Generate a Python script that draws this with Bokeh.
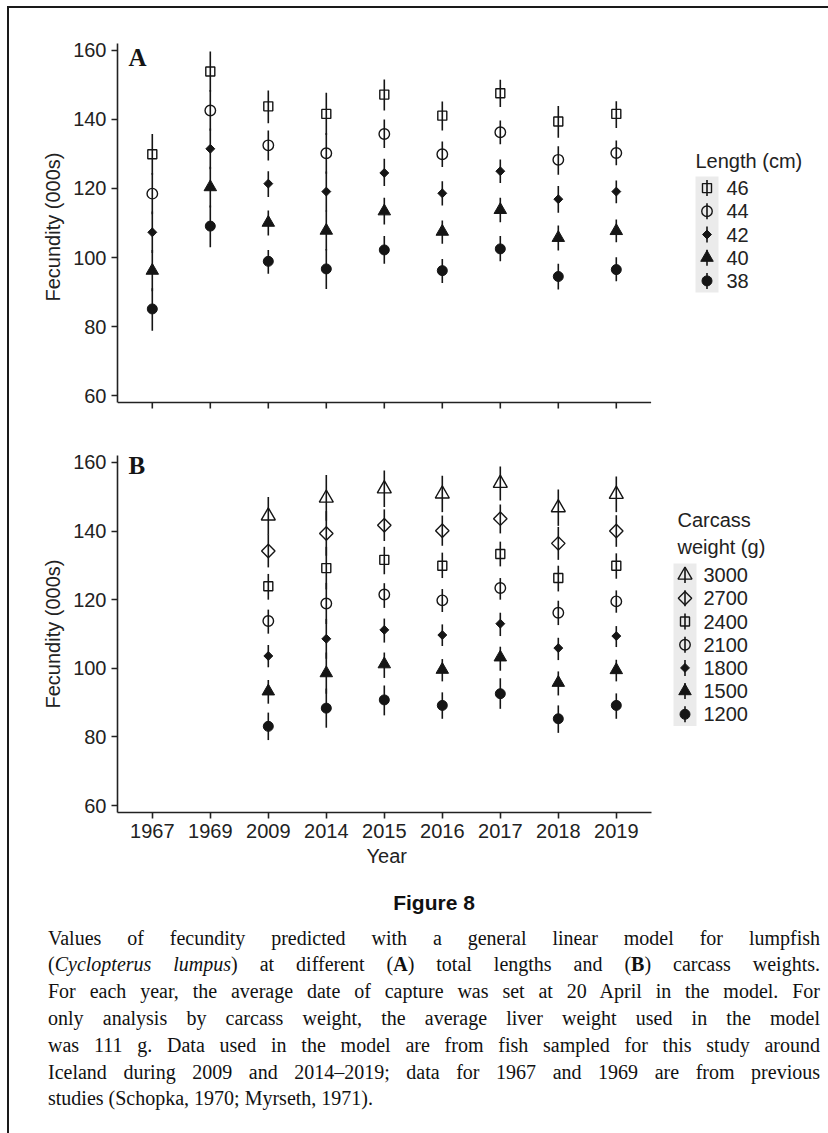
import math

from bokeh.plotting import figure
from bokeh.models import FixedTicker, Div, Title
from bokeh.layouts import column
from bokeh.core.properties import value
from bokeh.embed import file_html
from bokeh.resources import INLINE

# ---------------------------------------------------------------- data
years = ["1967", "1969", "2009", "2014", "2015", "2016", "2017", "2018", "2019"]
weight_years = ["2009", "2014", "2015", "2016", "2017", "2018", "2019"]
y_ticks = [60, 80, 100, 120, 140, 160]

# Panel A: predicted fecundity (000s) by total length, with confidence limits
length_labels = ["46", "44", "42", "40", "38"]
len46 = [129.9, 153.9, 143.8, 141.6, 147.2, 141.1, 147.6, 139.4, 141.6]
len46_lo = [124.0, 148.0, 138.9, 135.5, 142.6, 136.8, 143.6, 134.7, 137.5]
len46_hi = [135.8, 159.7, 148.4, 147.7, 151.6, 145.2, 151.5, 143.9, 145.3]
len44 = [118.5, 142.6, 132.5, 130.2, 135.8, 129.9, 136.3, 128.3, 130.3]
len44_lo = [112.5, 136.7, 128.1, 124.3, 131.7, 126.2, 132.8, 124.0, 126.7]
len44_hi = [124.5, 148.5, 136.8, 136.1, 140.0, 133.6, 139.7, 132.2, 133.9]
len42 = [107.3, 131.5, 121.4, 119.1, 124.5, 118.6, 125.0, 116.9, 119.1]
len42_lo = [101.3, 125.6, 117.5, 113.3, 120.7, 115.1, 121.6, 113.0, 115.7]
len42_hi = [113.3, 137.4, 125.0, 124.9, 128.6, 122.1, 128.4, 120.7, 122.3]
len40 = [96.2, 120.4, 110.1, 107.8, 113.4, 107.5, 113.8, 105.7, 107.7]
len40_lo = [90.2, 114.5, 106.4, 102.0, 109.6, 104.0, 110.2, 102.0, 104.4]
len40_hi = [102.2, 126.3, 113.6, 113.6, 117.3, 110.7, 117.3, 109.3, 111.0]
len38 = [85.1, 109.1, 98.9, 96.7, 102.2, 96.2, 102.5, 94.5, 96.5]
len38_lo = [78.8, 103.0, 95.3, 90.9, 98.2, 92.6, 98.9, 90.7, 93.1]
len38_hi = [91.1, 115.1, 102.2, 102.5, 106.2, 99.6, 106.2, 98.2, 100.1]

# Panel B: predicted fecundity (000s) by carcass weight, with confidence limits
weight_labels = ["3000", "2700", "2400", "2100", "1800", "1500", "1200"]
w3000 = [144.4, 149.6, 152.3, 150.8, 153.9, 146.8, 150.7]
w3000_lo = [138.9, 143.0, 147.0, 145.5, 148.9, 141.5, 145.5]
w3000_hi = [149.9, 156.3, 157.6, 156.1, 158.8, 152.1, 155.9]
w2700 = [134.2, 139.3, 141.7, 140.1, 143.6, 136.4, 140.0]
w2700_lo = [129.4, 132.8, 137.1, 135.7, 139.3, 131.6, 135.4]
w2700_hi = [139.0, 145.8, 146.3, 144.5, 147.7, 141.2, 144.6]
w2400 = [123.9, 129.2, 131.6, 129.9, 133.3, 126.3, 129.9]
w2400_lo = [120.0, 123.0, 127.4, 126.3, 129.7, 122.4, 126.1]
w2400_hi = [127.5, 135.4, 135.4, 133.7, 136.9, 129.9, 133.5]
w2100 = [113.8, 118.9, 121.5, 119.8, 123.4, 116.2, 119.5]
w2100_lo = [110.1, 112.9, 117.6, 116.4, 120.0, 112.6, 116.2]
w2100_hi = [117.1, 124.9, 124.8, 123.1, 126.3, 119.7, 122.7]
w1800 = [103.6, 108.6, 111.2, 109.7, 113.0, 105.9, 109.4]
w1800_lo = [100.3, 102.8, 107.5, 106.5, 109.4, 102.4, 106.2]
w1800_hi = [106.8, 114.4, 114.5, 112.8, 116.2, 108.9, 112.3]
w1500 = [93.3, 98.6, 101.2, 99.6, 103.2, 95.8, 99.5]
w1500_lo = [89.7, 92.6, 97.2, 96.2, 99.3, 92.1, 96.2]
w1500_hi = [96.6, 104.6, 104.6, 102.7, 106.3, 99.1, 102.5]
w1200 = [83.1, 88.4, 90.8, 89.2, 92.6, 85.3, 89.2]
w1200_lo = [79.1, 82.7, 86.3, 85.3, 88.2, 81.2, 85.3]
w1200_hi = [87.1, 94.1, 95.0, 93.0, 97.1, 89.2, 92.7]

# ---------------------------------------------------------------- styling
INK = "#151515"
AXIS = "#222222"
SANS = "Liberation Sans"
SERIF = "Liberation Serif"
KEY_BG = "#ebebeb"

OPEN = dict(fill_color=None, line_color=INK, line_width=1.4)
SOLID = dict(fill_color=INK, line_color=INK, line_width=1.0)
Q = math.pi / 4
M_SQUARE = dict(marker="square", size=9, angle=0, **OPEN)
M_CIRCLE = dict(marker="circle", size=10.5, angle=0, **OPEN)
M_DIAMOND_S = dict(marker="square", size=6.3, angle=Q, **SOLID)
M_TRI_S = dict(marker="triangle", size=12.5, angle=0, **SOLID)
M_DOT = dict(marker="circle", size=10, angle=0, **SOLID)
M_TRI_O = dict(marker="triangle", size=14, angle=0, **OPEN)
M_DIAMOND_O = dict(marker="square", size=9.5, angle=Q, **OPEN)

# page geometry (px)
PAGE_X0, PAGE_Y0 = 9, 8
FIG_W = 819
FRAME_LEFT = 108
STEP = 58
X_START = 0.4
X_STOP = len(years) + 1 - X_START
X_END = X_START + (FIG_W - FRAME_LEFT) / STEP
Y0, Y1 = 58, 162
TICK_OUT = 6


def to_x(px):
    return X_START + (px - PAGE_X0 - FRAME_LEFT) / STEP


def to_y(py, frame_top, frame_h, y_low=Y0):
    return Y1 - (py - frame_top) * (Y1 - y_low) / frame_h


def style_axis(ax):
    ax.axis_line_color = AXIS
    ax.axis_line_width = 1.6
    ax.major_tick_line_color = AXIS
    ax.major_tick_line_width = 1.6
    ax.major_tick_out = TICK_OUT
    ax.major_tick_in = 0
    ax.minor_tick_line_color = None
    ax.major_label_standoff = 5
    ax.major_label_text_font = SANS
    ax.major_label_text_font_size = "20px"
    ax.major_label_text_color = AXIS
    ax.axis_label_text_font = SANS
    ax.axis_label_text_font_size = "20px"
    ax.axis_label_text_font_style = "normal"
    ax.axis_label_text_color = AXIS


def make_panel(height, top, bottom, y_low):
    p = figure(width=FIG_W, height=height, x_range=(X_START, X_END),
               y_range=(y_low, Y1), output_backend="svg", toolbar_location=None,
               min_border_left=FRAME_LEFT, min_border_right=0,
               min_border_top=top, min_border_bottom=bottom)
    p.outline_line_color = None
    p.background_fill_color = "white"
    p.border_fill_color = "white"
    p.xgrid.visible = False
    p.ygrid.visible = False
    style_axis(p.xaxis[0])
    style_axis(p.yaxis[0])
    p.xaxis.ticker = FixedTicker(ticks=list(range(1, len(years) + 1)), minor_ticks=[])
    p.xaxis.major_label_overrides = {i + 1: y for i, y in enumerate(years)}
    p.xaxis.bounds = (X_START, X_STOP)
    p.yaxis.ticker = FixedTicker(ticks=y_ticks, minor_ticks=[])
    p.yaxis.bounds = (Y0, Y1)
    p.yaxis.axis_label = "Fecundity (000s)"
    p.yaxis.axis_label_standoff = 6
    return p


def draw_series(p, year_list, fit, lo, hi, style):
    xs = [years.index(y) + 1 for y in year_list]
    p.segment(x0=xs, y0=lo, x1=xs, y1=hi, line_color=INK, line_width=1.6)
    p.scatter(x=xs, y=fit, **style)


def draw_key(p, title_lines, title_px, title_py, labels, styles,
             key_left, key_top, label_px, fy):
    key = 23.2
    n = len(labels)
    for line, ty in zip(title_lines, title_py):
        p.text(x=[to_x(title_px)], y=[fy(ty)], text=[line], text_font=value(SANS),
               text_font_size="20px", text_color=AXIS, text_align="left",
               text_baseline="middle")
    p.quad(left=[to_x(key_left)], right=[to_x(key_left + 23)],
           top=[fy(key_top)], bottom=[fy(key_top + n * key)],
           fill_color=KEY_BG, line_color=None)
    cx = to_x(key_left + 11.5)
    for i, (lab, st) in enumerate(zip(labels, styles)):
        cy = key_top + key * (i + 0.5)
        p.segment(x0=[cx], y0=[fy(cy - 8)], x1=[cx], y1=[fy(cy + 8)],
                  line_color=INK, line_width=1.6)
        p.scatter(x=[cx], y=[fy(cy)], **st)
        p.text(x=[to_x(label_px)], y=[fy(cy)], text=[lab], text_font=value(SANS),
               text_font_size="20px", text_color=AXIS, text_align="left",
               text_baseline="middle")


def panel_letter(p, letter, py, fy):
    p.text(x=[to_x(128)], y=[fy(py)], text=[letter],
           text_font=value(SERIF), text_font_style="bold", text_font_size="25px",
           text_color=INK, text_align="left", text_baseline="middle")


# ---------------------------------------------------------------- panel A
# The upper panel shows year ticks without labels: its frame reaches a few
# pixels below y = Y0 so the bottom axis rule and ticks are drawn as segments.
A_TOP, A_PLOT_H, A_EXTRA = 43, 359, 8
A_LOW = Y0 - A_EXTRA * (Y1 - Y0) / A_PLOT_H
fya = lambda py: to_y(py, A_TOP, A_PLOT_H + A_EXTRA, A_LOW)
pa = make_panel(422, 35, 28 - A_EXTRA, A_LOW)
pa.xaxis.visible = False
tick_len = TICK_OUT * (Y1 - Y0) / A_PLOT_H
xs_all = list(range(1, len(years) + 1))
pa.segment(x0=xs_all, y0=[Y0] * len(xs_all), x1=xs_all,
           y1=[Y0 - tick_len] * len(xs_all), line_color=AXIS, line_width=1.6)
pa.segment(x0=[X_START], y0=[Y0], x1=[X_STOP], y1=[Y0],
           line_color=AXIS, line_width=1.6)

styles_a = [M_SQUARE, M_CIRCLE, M_DIAMOND_S, M_TRI_S, M_DOT]
for fit, lo, hi, st in zip([len46, len44, len42, len40, len38],
                           [len46_lo, len44_lo, len42_lo, len40_lo, len38_lo],
                           [len46_hi, len44_hi, len42_hi, len40_hi, len38_hi],
                           styles_a):
    draw_series(pa, years, fit, lo, hi, st)
panel_letter(pa, "A", 57, fya)
draw_key(pa, ["Length (cm)"], 695, [160], length_labels, styles_a,
         695, 176, 726, fya)

# ---------------------------------------------------------------- panel B
B_TOP, B_H = 455, 357
fyb = lambda py: to_y(py, B_TOP, B_H)
pb = make_panel(452, 25, 70, Y0)
styles_b = [M_TRI_O, M_DIAMOND_O, M_SQUARE, M_CIRCLE, M_DIAMOND_S, M_TRI_S, M_DOT]
for fit, lo, hi, st in zip([w3000, w2700, w2400, w2100, w1800, w1500, w1200],
                           [w3000_lo, w2700_lo, w2400_lo, w2100_lo, w1800_lo, w1500_lo, w1200_lo],
                           [w3000_hi, w2700_hi, w2400_hi, w2100_hi, w1800_hi, w1500_hi, w1200_hi],
                           styles_b):
    draw_series(pb, weight_years, fit, lo, hi, st)
panel_letter(pb, "B", 465, fyb)
draw_key(pb, ["Carcass", "weight (g)"], 677, [519, 546], weight_labels, styles_b,
         673, 563, 703, fyb)

# x-axis title, centred under the year axis (not under the wider frame)
year_title = Title(text="Year", align="left", offset=249, standoff=5,
                   text_font=SANS, text_font_size="20px",
                   text_font_style="normal", text_color=AXIS)
pb.add_layout(year_title, "below")

# ---------------------------------------------------------------- caption
caption_lines = [
    "Values of fecundity predicted with a general linear model for lumpfish",
    "(<i>Cyclopterus lumpus</i>) at different (<b>A</b>) total lengths and (<b>B</b>) carcass weights.",
    "For each year, the average date of capture was set at 20 April in the model. For",
    "only analysis by carcass weight, the average liver weight used in the model",
    "was 111 g. Data used in the model are from fish sampled for this study around",
    "Iceland during 2009 and 2014\u20132019; data for 1967 and 1969 are from previous",
]
caption_last = "studies (Schopka, 1970; Myrseth, 1971)."

rows = "".join(
    f'<div style="text-align:justify;text-align-last:justify;white-space:nowrap;">{ln}</div>'
    for ln in caption_lines
) + f'<div style="text-align:left;white-space:nowrap;">{caption_last}</div>'

caption_html = (
    f'<div style="width:772px;margin-left:34px;color:#111;">'
    f'<div style="margin-top:3px;height:26px;line-height:26px;text-align:center;'
    f'font-family:\'{SANS}\';font-weight:bold;font-size:21px;">Figure 8</div>'
    f'<div style="margin-top:8.6px;font-family:\'{SERIF}\';font-size:20px;'
    f'line-height:26.8px;">{rows}</div></div>'
)
caption = Div(text=caption_html, width=FIG_W, height=245)

layout = column(pa, pb, caption, margin=(6, 0, 0, 7),
                styles={"border-left": "2px solid #1a1a1a",
                        "border-top": "2px solid #1a1a1a"})

with open("out.html", "w") as f:
    f.write(file_html(layout, INLINE))
